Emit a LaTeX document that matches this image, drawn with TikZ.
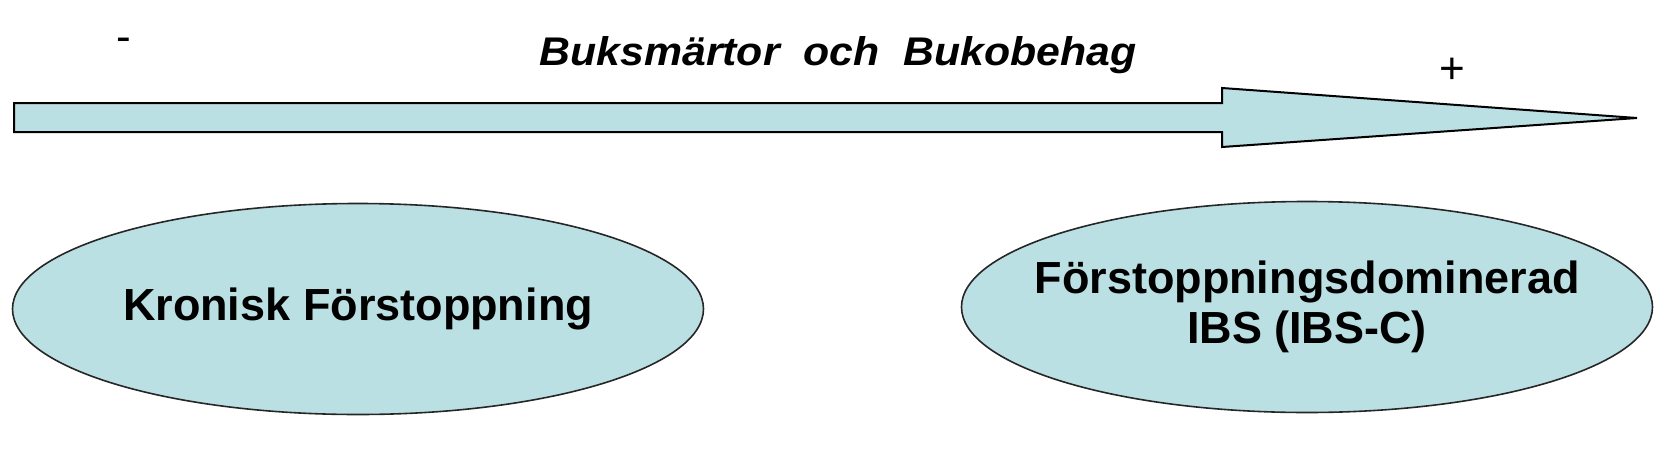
\documentclass[tikz,border=0pt]{standalone}
\usepackage{fontspec}
\setmainfont{Liberation Sans}
\usepackage{xcolor}
\usepackage{tikz}
\usetikzlibrary{shapes.geometric}
\definecolor{ljusbla}{RGB}{187,224,227}

\begin{document}
\begin{tikzpicture}[x=0.5pt,y=-0.5pt,
        oval/.style={ellipse, draw=black!85, line width=0.8pt, fill=ljusbla, minimum width=345.5pt, minimum height=105.5pt, inner xsep=-20pt, inner ysep=0pt, align=center, font=\fontsize{22.5}{25}\selectfont\bfseries},
        tecken/.style={font=\fontsize{22}{26}\selectfont, inner sep=0pt}]
        %RAM
        \useasboundingbox (0,0) rectangle (1666,450);
        %KOORDINATER
        \coordinate (S1) at (14,103);
        \coordinate (S2) at (1222,103);
        \coordinate (H1) at (1222,88);
        \coordinate (T) at (1637,118);
        \coordinate (H2) at (1222,147);
        \coordinate (S3) at (1222,132);
        \coordinate (S4) at (14,132);
        %PIL
        \draw[line width=1pt, fill=ljusbla] (S1) -- (S2) -- (H1) -- (T) -- (H2) -- (S3) -- (S4) -- cycle;
        %TEXT
        \node[anchor=base, font=\fontsize{20}{24}\selectfont\bfseries\itshape] (rubrik) at (838,65) {\scalebox{1.07}[1]{Buksmärtor\ \ och\ \ Bukobehag}};
        \node[tecken] (minus) at (124,45) {-};
        \node[tecken] (plus) at (1452,71) {+};
        %ELLIPSER
        \node[oval] (kronisk) at (358,309) {Kronisk Förstoppning};
        \node[oval] (ibsc) at (1307,307) {Förstoppningsdominerad\\IBS (IBS-C)};
\end{tikzpicture}
\end{document}
